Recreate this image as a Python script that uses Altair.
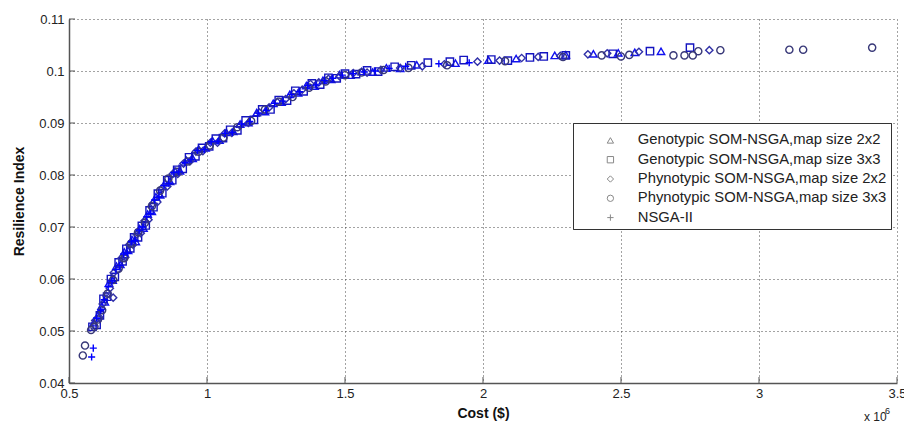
import altair as alt
import pandas as pd

SERIES = [
    "Genotypic SOM-NSGA,map size 2x2",
    "Genotypic SOM-NSGA,map size 3x3",
    "Phynotypic SOM-NSGA,map size 2x2",
    "Phynotypic SOM-NSGA,map size 3x3",
    "NSGA-II",
]

# Genotypic 2x2 (triangles)
g22_x = [0.590, 0.605, 0.618, 0.630, 0.645, 0.658, 0.672, 0.686, 0.700, 0.714, 0.728, 0.742, 0.756, 0.770,
         0.785, 0.800, 0.815, 0.830, 0.848, 0.866, 0.884, 0.902, 0.925, 0.948, 0.970, 0.995, 1.020, 1.045,
         1.070, 1.095, 1.120, 1.150, 1.180, 1.210, 1.240, 1.270, 1.300, 1.330, 1.360, 1.390, 1.420, 1.450,
         1.480, 1.520, 1.560, 1.600, 1.650, 1.700, 1.760, 1.90, 2.02, 2.12, 2.26, 2.30, 2.40, 2.49, 2.55,
         2.645]
g22_y = [0.0516, 0.0530, 0.0548, 0.0556, 0.0592, 0.0598, 0.0625, 0.0628, 0.0652, 0.0655, 0.0676, 0.0672,
         0.0697, 0.0698, 0.0725, 0.0730, 0.0758, 0.0762, 0.0785, 0.0788, 0.0808, 0.0808, 0.0828, 0.0832,
         0.0850, 0.0852, 0.0866, 0.0867, 0.0882, 0.0884, 0.0898, 0.0901, 0.0920, 0.0922, 0.0938, 0.0940,
         0.0955, 0.0958, 0.0972, 0.0971, 0.0982, 0.0984, 0.0993, 0.0992, 0.0999, 0.0998, 0.1006, 0.1005,
         0.1012, 0.1015, 0.1021, 0.1024, 0.1030, 0.1031, 0.1033, 0.1035, 0.1036, 0.1038]

# Genotypic 3x3 (squares)
g33_x = [0.585, 0.600, 0.612, 0.625, 0.638, 0.652, 0.666, 0.680, 0.694, 0.708, 0.722, 0.736, 0.750, 0.764,
         0.778, 0.792, 0.806, 0.822, 0.838, 0.856, 0.874, 0.892, 0.912, 0.935, 0.958, 0.982, 1.008, 1.032,
         1.058, 1.084, 1.110, 1.140, 1.170, 1.200, 1.230, 1.260, 1.290, 1.320, 1.350, 1.380, 1.410, 1.440,
         1.470, 1.500, 1.540, 1.580, 1.620, 1.680, 1.740, 1.80, 1.88, 1.93, 2.03, 2.09, 2.17, 2.22, 2.30,
         2.47, 2.605, 2.75]
g33_y = [0.0508, 0.0512, 0.0530, 0.0562, 0.0566, 0.0600, 0.0604, 0.0632, 0.0634, 0.0658, 0.0659, 0.0680,
         0.0680, 0.0702, 0.0703, 0.0732, 0.0738, 0.0764, 0.0765, 0.0790, 0.0790, 0.0810, 0.0812, 0.0834,
         0.0836, 0.0852, 0.0855, 0.0870, 0.0871, 0.0887, 0.0886, 0.0905, 0.0906, 0.0926, 0.0926, 0.0944,
         0.0943, 0.0962, 0.0961, 0.0976, 0.0974, 0.0987, 0.0986, 0.0995, 0.0994, 0.1001, 0.0999, 0.1008,
         0.1011, 0.1016, 0.1018, 0.1021, 0.1022, 0.1020, 0.1026, 0.1028, 0.1030, 0.1033, 0.1038, 0.1045]

# Phynotypic 2x2 (diamonds)
p22_x = [0.595, 0.610, 0.622, 0.635, 0.648, 0.660, 0.662, 0.676, 0.690, 0.704, 0.718, 0.732, 0.746, 0.760,
         0.774, 0.788, 0.804, 0.820, 0.838, 0.856, 0.876, 0.894, 0.915, 0.938, 0.960, 0.985, 1.012, 1.038,
         1.064, 1.090, 1.120, 1.150, 1.190, 1.225, 1.255, 1.285, 1.315, 1.345, 1.375, 1.405, 1.440, 1.480,
         1.530, 1.580, 1.630, 1.700, 1.78, 1.86, 1.98, 2.06, 2.14, 2.20, 2.28, 2.38, 2.45, 2.565, 2.82]
p22_y = [0.0520, 0.0526, 0.0552, 0.0568, 0.0582, 0.0564, 0.0612, 0.0618, 0.0640, 0.0642, 0.0666, 0.0666,
         0.0686, 0.0688, 0.0712, 0.0714, 0.0745, 0.0748, 0.0775, 0.0778, 0.0802, 0.0802, 0.0822, 0.0826,
         0.0845, 0.0846, 0.0862, 0.0862, 0.0880, 0.0881, 0.0895, 0.0900, 0.0920, 0.0930, 0.0940, 0.0946,
         0.0957, 0.0964, 0.0975, 0.0978, 0.0985, 0.0990, 0.0996, 0.0997, 0.1002, 0.1006, 0.1009, 0.1013,
         0.1018, 0.1020, 0.1025, 0.1027, 0.1029, 0.1032, 0.1034, 0.1037, 0.1040]

# Phynotypic 3x3 (circles)
p33_x = [0.558, 0.550, 0.580, 0.592, 0.605, 0.620, 0.640, 0.660, 0.680, 0.700, 0.725, 0.750, 0.775, 0.800,
         0.830, 0.860, 0.890, 0.930, 0.970, 1.010, 1.060, 1.110, 1.160, 1.210, 1.260, 1.310, 1.370, 1.430,
         1.500, 1.560, 1.640, 1.730, 1.87, 2.08, 2.29, 2.43, 2.50, 2.53, 2.69, 2.73, 2.76, 2.78, 2.86,
         3.11, 3.16, 3.41]
p33_y = [0.0472, 0.0453, 0.0502, 0.0508, 0.0522, 0.0540, 0.0572, 0.0598, 0.0620, 0.0640, 0.0668, 0.0690,
         0.0708, 0.0740, 0.0770, 0.0793, 0.0806, 0.0826, 0.0845, 0.0857, 0.0872, 0.0892, 0.0904, 0.0926,
         0.0941, 0.0950, 0.0968, 0.0980, 0.0992, 0.0997, 0.1002, 0.1006, 0.1011, 0.1019, 0.1027, 0.1030,
         0.1028, 0.1031, 0.1030, 0.1030, 0.1030, 0.1038, 0.1040, 0.1041, 0.1041, 0.1045]

# NSGA-II (plus)
ns_x = [0.588, 0.582, 0.600, 0.615, 0.628, 0.642, 0.656, 0.670, 0.684, 0.698, 0.712, 0.726, 0.740, 0.754,
        0.768, 0.782, 0.796, 0.810, 0.826, 0.844, 0.862, 0.880, 0.898, 0.920, 0.942, 0.965, 0.990, 1.015,
        1.040, 1.066, 1.092, 1.125, 1.155, 1.185, 1.215, 1.245, 1.275, 1.305, 1.335, 1.365, 1.395, 1.425,
        1.455, 1.490, 1.530, 1.570, 1.610, 1.660, 1.720, 1.84, 1.95]
ns_y = [0.0467, 0.0450, 0.0525, 0.0540, 0.0560, 0.0585, 0.0596, 0.0618, 0.0626, 0.0648, 0.0650, 0.0672,
        0.0674, 0.0694, 0.0700, 0.0720, 0.0726, 0.0752, 0.0758, 0.0780, 0.0784, 0.0805, 0.0806, 0.0824,
        0.0830, 0.0847, 0.0849, 0.0864, 0.0865, 0.0880, 0.0882, 0.0898, 0.0903, 0.0919, 0.0924, 0.0938,
        0.0942, 0.0955, 0.0960, 0.0972, 0.0973, 0.0982, 0.0986, 0.0992, 0.0995, 0.0998, 0.1000, 0.1005,
        0.1009, 0.1014, 0.1016]

x_ticks = [0.5, 1.0, 1.5, 2.0, 2.5, 3.0, 3.5]
y_ticks = [0.04, 0.05, 0.06, 0.07, 0.08, 0.09, 0.10, 0.11]

rows = []
for name, xs, ys in zip(SERIES, [g22_x, g33_x, p22_x, p33_x, ns_x], [g22_y, g33_y, p22_y, p33_y, ns_y]):
    for a, b in zip(xs, ys):
        rows.append({"cost": a, "ri": b, "series": name})
df = pd.DataFrame(rows)

W, H = 828, 364
FONT = "Liberation Sans"
PLUS = "M-1,0H1M0,-1V1"

x_scale = alt.Scale(domain=[0.5, 3.5], nice=False, zero=False)
y_scale = alt.Scale(domain=[0.04, 0.11], nice=False, zero=False)

points = alt.Chart(df).mark_point(filled=False, strokeWidth=1.4, opacity=1).encode(
    x=alt.X("cost:Q", scale=x_scale,
            axis=alt.Axis(values=x_ticks, format="~g", title="Cost ($)", grid=True, labelFlush=False)),
    y=alt.Y("ri:Q", scale=y_scale,
            axis=alt.Axis(values=y_ticks, format=".2~f", title="Resilience Index", grid=True,
                          labelFlush=False)),
    shape=alt.Shape("series:N", scale=alt.Scale(domain=SERIES,
                    range=["triangle-up", "square", "diamond", "circle", PLUS]),
                    legend=alt.Legend(title=" ")),
    color=alt.Color("series:N", scale=alt.Scale(domain=SERIES,
                    range=["#1010f0", "#1414c0", "#3030a8", "#383878", "#0000ff"]),
                    legend=alt.Legend(title=" ")),
    size=alt.Size("series:N", scale=alt.Scale(domain=SERIES, range=[55, 50, 55, 55, 80]),
                  legend=None),
)

xt = alt.Chart(pd.DataFrame({"t": x_ticks})).mark_rule(color="#555555", strokeWidth=1).encode(
    x=alt.X("t:Q", scale=x_scale), y=alt.value(H), y2=alt.value(H - 6))
yt = alt.Chart(pd.DataFrame({"t": y_ticks})).mark_rule(color="#555555", strokeWidth=1).encode(
    y=alt.Y("t:Q", scale=y_scale), x=alt.value(0), x2=alt.value(6))

one = alt.Data(values=[{"a": 1}])
exp_base = alt.Chart(one).mark_text(font=FONT, fontSize=12, color="#222222", align="left",
                                    baseline="bottom").encode(
    x=alt.value(795), y=alt.value(405), text=alt.value("x 10"))
exp_sup = alt.Chart(one).mark_text(font=FONT, fontSize=9, color="#222222", align="left",
                                   baseline="bottom").encode(
    x=alt.value(816), y=alt.value(397), text=alt.value("6"))

chart = alt.layer(points, xt, yt, exp_base, exp_sup).resolve_scale(
    shape="independent"
).properties(
    width=W, height=H,
    autosize=alt.AutoSizeParams(type="none"),
    padding={"left": 69, "top": 19, "right": 7, "bottom": 42},
    background="white",
).configure_view(stroke=None).configure_axis(
    domainColor="#555555", domainWidth=1.5,
    gridColor="#333333", gridDash=[1, 3], gridWidth=1, gridOpacity=0.9,
    ticks=False, labelFont=FONT, labelFontSize=13, labelColor="#222222",
    titleFont=FONT, titleFontSize=14, titleFontWeight="bold", titleColor="#111111",
).configure_axisX(labelPadding=4, titlePadding=6).configure_axisY(
    labelPadding=5, titlePadding=12
).configure_legend(
    orient="none", legendX=504, legendY=104, padding=4,
    strokeColor="#333333", fillColor="white", strokeWidth=1,
    titleFontSize=2, titlePadding=4,
    labelFont=FONT, labelFontSize=14.8, labelColor="#222222", labelLimit=340,
    symbolOffset=26, labelOffset=20, rowPadding=3.3, symbolSize=40, symbolStrokeWidth=1,
    cornerRadius=0,
)

chart.save("out.html", embed_options={"renderer": "svg", "actions": False})
